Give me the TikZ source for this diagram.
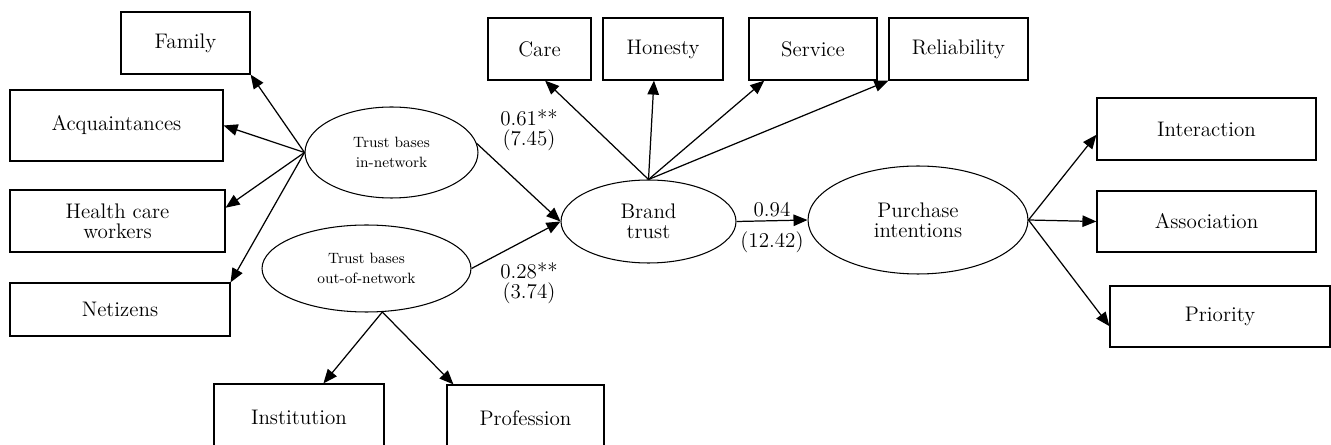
\documentclass[tikz,border=0pt]{standalone}
\usepackage{tikz}
\usetikzlibrary{arrows.meta,shapes.geometric}

\begin{document}
\begin{tikzpicture}[x=0.02cm,y=-0.02cm,
  box/.style={draw,rectangle,line width=0.7pt,font=\fontsize{12}{11.5}\selectfont,align=center,inner sep=0pt},
  latent/.style={draw,ellipse,line width=0.6pt,inner sep=0pt,align=center,font=\fontsize{12}{11.5}\selectfont},
  small/.style={font=\fontsize{8.5}{11.5}\selectfont},
  arr/.style={-{Triangle[length=0.28cm,width=0.23cm]},line width=0.7pt},
  coef/.style={font=\fontsize{12}{11.5}\selectfont,align=center,inner sep=1pt}]
\useasboundingbox (0,0) rectangle (1331,445);

% Trust bases in-network indicators
\node[box,minimum width=2.58cm,minimum height=1.24cm] (family) at (185.5,43) {Family};
\node[box,minimum width=4.26cm,minimum height=1.42cm] (acq) at (116.5,125.5) {Acquaintances};
\node[box,minimum width=4.3cm,minimum height=1.24cm] (health) at (117.5,221) {Health care\\workers};
\node[box,minimum width=4.4cm,minimum height=1.06cm] (netizens) at (120,309.5) {\raisebox{-0.12cm}{Netizens}};

% Trust bases out-of-network indicators
\node[box,minimum width=3.4cm,minimum height=1.32cm] (institution) at (299,417) {Institution};
\node[box,minimum width=3.14cm,minimum height=1.32cm] (profession) at (525.5,418) {Profession};

% Brand trust indicators
\node[box,minimum width=2.06cm,minimum height=1.24cm] (care) at (539.5,49) {Care};
\node[box,minimum width=2.4cm,minimum height=1.24cm] (honesty) at (663,49) {Honesty};
\node[box,minimum width=2.56cm,minimum height=1.24cm] (service) at (813,49) {Service};
\node[box,minimum width=2.78cm,minimum height=1.24cm] (reliability) at (958.5,49) {Reliability};

% Purchase intentions indicators
\node[box,minimum width=4.38cm,minimum height=1.24cm] (interaction) at (1206.5,129) {Interaction};
\node[box,minimum width=4.38cm,minimum height=1.22cm] (association) at (1206.5,221.5) {Association};
\node[box,minimum width=4.4cm,minimum height=1.22cm] (priority) at (1220,316.5) {Priority};

% Latent variables
\node[latent,small,minimum width=3.46cm,minimum height=1.82cm] (innet) at (391.5,152.5) {Trust bases\\in-network};
\node[latent,small,minimum width=4.18cm,minimum height=1.74cm] (outnet) at (366.5,268.5) {Trust bases\\out-of-network};
\node[latent,minimum width=3.5cm,minimum height=1.66cm] (brand) at (648.5,221.5) {Brand\\trust};
\node[latent,minimum width=4.4cm,minimum height=2.16cm] (purchase) at (918,220) {Purchase\\intentions};

% Arrows
\draw[arr] (innet.west) -- (family.south east);
\draw[arr] (innet.west) -- (acq.east);
\draw[arr] (innet.west) -- (health.7);
\draw[arr] (innet.west) -- (netizens.north east);
\draw[arr] (outnet.-70) -- (institution.54);
\draw[arr] (outnet.-70) -- (profession.155);
\draw[arr] (brand.north) -- (care.-80);
\draw[arr] (brand.north) -- (honesty.-106);
\draw[arr] (brand.north) -- (service.-147);
\draw[arr] (brand.north) -- (reliability.south west);
\draw[arr] (innet.6) -- (brand.west);
\draw[arr] (outnet.east) -- (brand.west);
\draw[arr] (brand.east) -- node[coef,above=1pt] (b3) {0.94} node[coef,below=5pt] (t3) {(12.42)} (purchase.west);
\draw[arr] (purchase.east) -- (interaction.183);
\draw[arr] (purchase.east) -- (association.west);
\draw[arr] (purchase.east) -- (priority.185);

% Path coefficients
\node[coef] (b1) at (529,130) {0.61**\\(7.45)};
\node[coef] (b2) at (529,283) {0.28**\\(3.74)};
\end{tikzpicture}
\end{document}
